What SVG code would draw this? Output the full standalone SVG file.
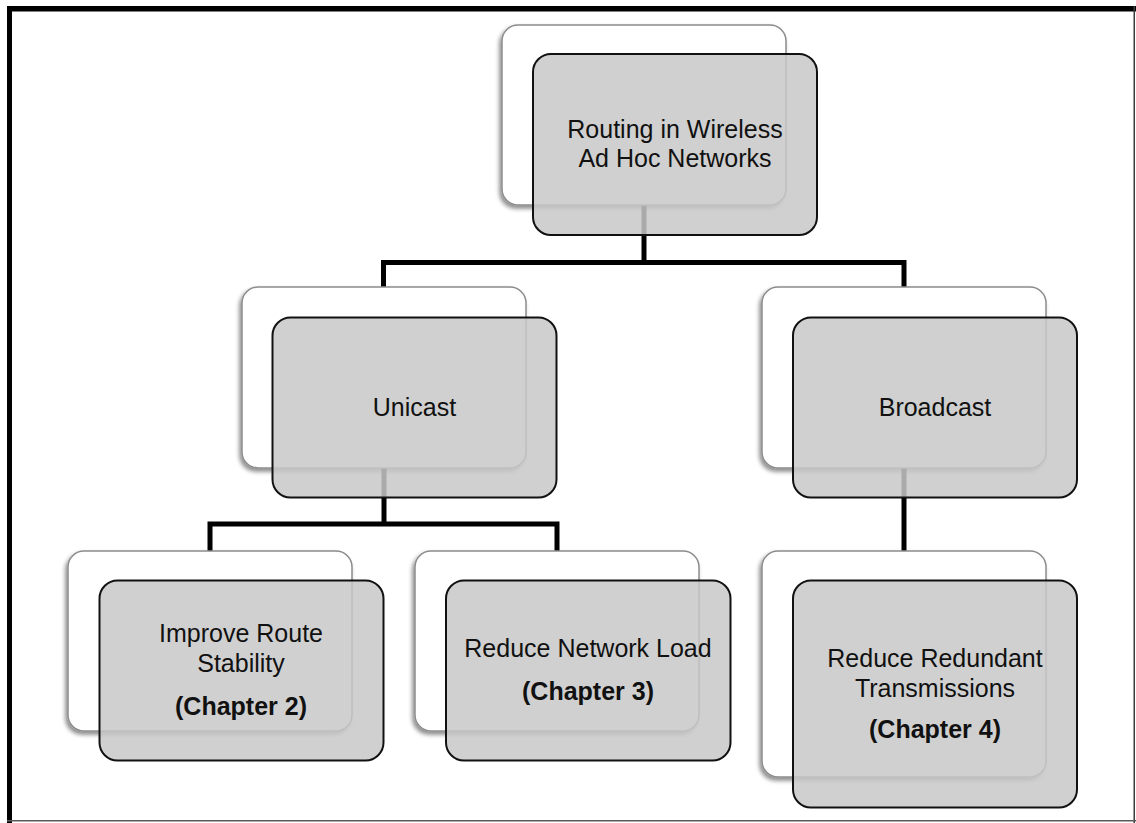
<svg xmlns="http://www.w3.org/2000/svg" width="1136" height="823" viewBox="0 0 1136 823">
  <defs>
    <filter id="sh" x="-10%" y="-10%" width="120%" height="125%">
      <feDropShadow dx="-2" dy="3" stdDeviation="2" flood-color="#000" flood-opacity="0.45"/>
    </filter>
    <style>
      .back { fill: #ffffff; stroke: #8c8c8c; stroke-width: 1.5; filter: url(#sh); }
      .front { fill: #c8c8c8; fill-opacity: 0.85; stroke: #111111; stroke-width: 2; }
      .conn { fill: none; stroke: #000000; stroke-width: 5; stroke-linejoin: miter; stroke-linecap: butt; }
      .t { font-family: "Liberation Sans", Arial, sans-serif; font-size: 25px; fill: #111111; text-anchor: middle; }
      .b { font-weight: bold; }
    </style>
  </defs>
  <rect x="0" y="0" width="1136" height="823" fill="#ffffff"/>
  <g id="frame">
    <rect x="7" y="6" width="1129" height="5.5" fill="#000"/>
    <rect x="7" y="6" width="5" height="817" fill="#000"/>
    <line x1="1134.25" y1="6" x2="1134.25" y2="823" stroke="#3a3a3a" stroke-width="1.5"/>
    <line x1="7" y1="820.75" x2="1136" y2="820.75" stroke="#5a5a5a" stroke-width="1.5"/>
  </g>
  <g id="connectors">
    <path class="conn" d="M644,205 V262.5"/>
    <path class="conn" d="M383.5,288 V262.5 H904 V288"/>
    <path class="conn" d="M384,468 V524"/>
    <path class="conn" d="M210,551 V524 H557 V551"/>
    <path class="conn" d="M904,468 V551"/>
  </g>
  <g id="node-root">
    <rect class="back" x="502" y="25" width="284" height="180" rx="16"/>
    <rect class="front" x="533" y="54" width="284" height="181" rx="18"/>
    <text class="t" x="675" y="138">Routing in Wireless</text>
    <text class="t" x="675" y="167">Ad Hoc Networks</text>
  </g>
  <g id="node-unicast">
    <rect class="back" x="242" y="287" width="284" height="181" rx="16"/>
    <rect class="front" x="272.5" y="317.5" width="284" height="180" rx="18"/>
    <text class="t" x="414.5" y="415.5">Unicast</text>
  </g>
  <g id="node-broadcast">
    <rect class="back" x="762" y="287" width="284" height="181" rx="16"/>
    <rect class="front" x="793" y="317.5" width="284" height="180" rx="18"/>
    <text class="t" x="935" y="415.5">Broadcast</text>
  </g>
  <g id="node-ch2">
    <rect class="back" x="68" y="551" width="284" height="180" rx="16"/>
    <rect class="front" x="99.5" y="580.5" width="284" height="180" rx="18"/>
    <text class="t" x="241" y="641.5">Improve Route</text>
    <text class="t" x="241" y="671.5">Stability</text>
    <text class="t b" x="241" y="714.5">(Chapter 2)</text>
  </g>
  <g id="node-ch3">
    <rect class="back" x="415" y="551" width="284" height="180" rx="16"/>
    <rect class="front" x="446" y="580.5" width="284.5" height="180" rx="18"/>
    <text class="t" x="588" y="656.5">Reduce Network Load</text>
    <text class="t b" x="588" y="699.5">(Chapter 3)</text>
  </g>
  <g id="node-ch4">
    <rect class="back" x="762" y="551" width="284" height="226" rx="16"/>
    <rect class="front" x="793" y="580.5" width="284" height="227" rx="18"/>
    <text class="t" x="935" y="666.5">Reduce Redundant</text>
    <text class="t" x="935" y="696.5">Transmissions</text>
    <text class="t b" x="935" y="738">(Chapter 4)</text>
  </g>
</svg>
